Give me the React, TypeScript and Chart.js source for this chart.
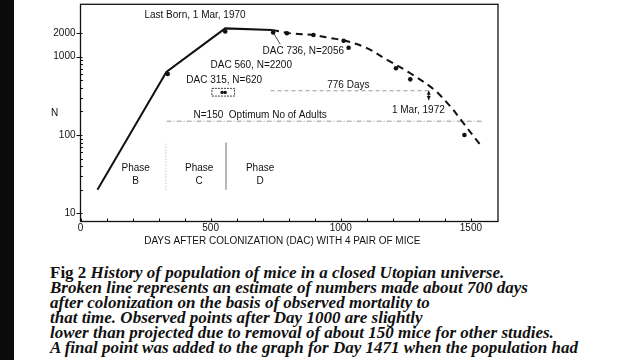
import React, { useEffect, useRef } from "react";
import { Chart, registerables } from "chart.js";

Chart.register(...registerables);

// ---- data (days after colonization, population N) ----
const solidDac = [65, 330, 556, 736];
const solidN = [20, 640, 2300, 2200];

const projDac = [736, 800, 900, 960, 1017, 1100, 1178, 1267, 1356, 1421, 1460, 1540];
const projN = [2200, 2000, 1880, 1730, 1600, 1290, 910, 615, 385, 232, 158, 72];

const obsDac = [335, 556, 740, 793, 895, 1011, 1030, 1212, 1267, 1475];
const obsN = [600, 2100, 2040, 1990, 1890, 1600, 1300, 711, 514, 100];

const optimumN = [150, 150];
const optimumDac = [331, 1547];

const daysLineDac = [730, 1338];
const daysLineN = [367, 367];

const phaseDividerDac = [328, 559];
const phaseDividerN = [20, 80];

const xTickValues = [0, 100, 200, 300, 400, 500, 600, 700, 800, 900, 1000, 1100, 1200, 1300, 1400, 1500];
const xLabelValues = [0, 500, 1000, 1500];
const yLabelValues = [10, 100, 1000, 2000];
const yMinorValues = [20, 30, 40, 50, 60, 70, 80, 90, 200, 300, 400, 500, 600, 700, 800, 900];

const labels = [
  { text: "Last Born, 1 Mar, 1970", x: 440, y: 3410 },
  { text: "DAC 736, N=2056", x: 856, y: 1158 },
  { text: "DAC 560, N=2200", x: 656, y: 783 },
  { text: "DAC 315, N=620", x: 552, y: 504 },
  { text: "776 Days", x: 1029, y: 426 },
  { text: "1 Mar, 1972", x: 1298, y: 208 },
  { text: "N=150  Optimum No of Adults", x: 690, y: 180 },
  { text: "Phase", x: 212, y: 37.8 },
  { text: "B", x: 212, y: 25.7 },
  { text: "Phase", x: 456, y: 37.8 },
  { text: "C", x: 456, y: 25.7 },
  { text: "Phase", x: 690, y: 37.8 },
  { text: "D", x: 690, y: 25.7 },
];

const captionLines = [
  "History of population of mice in a closed Utopian universe.",
  "Broken line represents an estimate of numbers made about 700 days",
  "after colonization on the basis of observed mortality to",
  "that time. Observed points after Day 1000 are slightly",
  "lower than projected due to removal of about 150 mice for other studies.",
  "A final point was added to the graph for Day 1471 when the population had",
];

const FONT = '"Liberation Sans", Arial, sans-serif';

const pts = (xs: number[], ys: number[]) => xs.map((x, i) => ({ x, y: ys[i] }));

const annotationPlugin = {
  id: "annot",
  afterDraw(chart: any) {
    const { ctx, chartArea, scales } = chart;
    const xs = scales.x;
    const ys = scales.y;
    ctx.save();
    ctx.strokeStyle = "#111";
    ctx.lineWidth = 1.3;
    ctx.strokeRect(chartArea.left, chartArea.top, chartArea.right - chartArea.left, chartArea.bottom - chartArea.top);

    // x tick marks (inside)
    ctx.lineWidth = 1;
    xTickValues.forEach((v) => {
      const px = Math.round(xs.getPixelForValue(v)) + 0.5;
      ctx.beginPath();
      ctx.moveTo(px, chartArea.bottom);
      ctx.lineTo(px, chartArea.bottom - 3);
      ctx.stroke();
    });
    // y major (outside) and minor (inside)
    yLabelValues.forEach((v) => {
      const py = Math.round(ys.getPixelForValue(v)) + 0.5;
      ctx.beginPath();
      ctx.moveTo(chartArea.left - 4, py);
      ctx.lineTo(chartArea.left + 2, py);
      ctx.stroke();
    });
    yMinorValues.forEach((v) => {
      const py = Math.round(ys.getPixelForValue(v)) + 0.5;
      ctx.beginPath();
      ctx.moveTo(chartArea.left, py);
      ctx.lineTo(chartArea.left + 2.5, py);
      ctx.stroke();
    });

    // labels
    ctx.fillStyle = "#111";
    ctx.font = `10px ${FONT}`;
    ctx.textAlign = "center";
    ctx.textBaseline = "middle";
    labels.forEach((l) => {
      ctx.fillText(l.text, xs.getPixelForValue(l.x), ys.getPixelForValue(l.y));
    });

    // "N" axis letter
    ctx.fillText("N", chartArea.left - 26, ys.getPixelForValue(190));

    // x axis title
    ctx.fillText(
      "DAYS AFTER COLONIZATION (DAC) WITH 4 PAIR OF MICE",
      (chartArea.left + chartArea.right) / 2 - 7,
      chartArea.bottom + 20
    );

    // boxed legend with two dots
    const bx0 = xs.getPixelForValue(505);
    const bx1 = xs.getPixelForValue(592);
    const by0 = ys.getPixelForValue(394);
    const by1 = ys.getPixelForValue(314);
    ctx.setLineDash([2, 1]);
    ctx.lineWidth = 0.8;
    ctx.strokeRect(bx0, by0, bx1 - bx0, by1 - by0);
    ctx.setLineDash([]);
    [544, 556].forEach((d) => {
      ctx.beginPath();
      ctx.arc(xs.getPixelForValue(d), ys.getPixelForValue(350), 1.7, 0, Math.PI * 2);
      ctx.fill();
    });
    ctx.beginPath();
    ctx.moveTo(xs.getPixelForValue(544), ys.getPixelForValue(350));
    ctx.lineTo(xs.getPixelForValue(556), ys.getPixelForValue(350));
    ctx.stroke();

    // arrow at 1 Mar 1972
    const ax = xs.getPixelForValue(1338);
    const ay0 = ys.getPixelForValue(367);
    const ay1 = ys.getPixelForValue(279);
    ctx.lineWidth = 1;
    ctx.beginPath();
    ctx.moveTo(ax, ay0);
    ctx.lineTo(ax, ay1);
    ctx.stroke();
    ctx.beginPath();
    ctx.moveTo(ax, ay0);
    ctx.lineTo(ax - 2, ay0 + 4);
    ctx.lineTo(ax + 2, ay0 + 4);
    ctx.closePath();
    ctx.fill();
    ctx.beginPath();
    ctx.moveTo(ax, ay1);
    ctx.lineTo(ax - 2, ay1 - 4);
    ctx.lineTo(ax + 2, ay1 - 4);
    ctx.closePath();
    ctx.fill();
    ctx.restore();
  },
};

function PopulationChart() {
  const ref = useRef<HTMLCanvasElement | null>(null);
  useEffect(() => {
    if (!ref.current) return;
    const chart = new Chart(ref.current, {
      type: "line",
      data: {
        datasets: [
          {
            data: pts(solidDac, solidN),
            borderColor: "#111",
            borderWidth: 2,
            pointRadius: 0,
            tension: 0,
          },
          {
            data: pts(projDac, projN),
            borderColor: "#111",
            borderWidth: 2,
            borderDash: [7, 5],
            pointRadius: 0,
            tension: 0.35,
          },
          {
            data: pts(obsDac, obsN),
            showLine: false,
            pointRadius: 2.3,
            pointBackgroundColor: "#111",
            pointBorderColor: "#111",
            borderWidth: 0,
          },
          {
            data: pts(optimumDac, optimumN),
            borderColor: "#999",
            borderWidth: 1,
            borderDash: [5, 2, 1, 2],
            pointRadius: 0,
          },
          {
            data: pts(daysLineDac, daysLineN),
            borderColor: "#999",
            borderWidth: 1,
            borderDash: [4, 3],
            pointRadius: 0,
          },
          {
            data: pts([phaseDividerDac[0], phaseDividerDac[0]], phaseDividerN),
            borderColor: "#aaa",
            borderWidth: 1,
            borderDash: [1, 2],
            pointRadius: 0,
          },
          {
            data: pts([phaseDividerDac[1], phaseDividerDac[1]], phaseDividerN),
            borderColor: "#888",
            borderWidth: 1.2,
            pointRadius: 0,
          },
          {
            data: pts([767, 742], [1450, 1990]),
            borderColor: "#333",
            borderWidth: 0.9,
            pointRadius: 0,
          },
        ],
      },
      options: {
        responsive: false,
        animation: false,
        events: [],
        layout: { padding: { left: 0, right: 142, top: 4.3, bottom: 0 } },
        plugins: { legend: { display: false }, tooltip: { enabled: false } },
        scales: {
          x: {
            type: "linear",
            min: 0,
            max: 1604,
            grid: { display: false, drawTicks: false },
            border: { display: false },
            afterBuildTicks: (s: any) => {
              s.ticks = xLabelValues.map((value) => ({ value }));
            },
            afterFit: (s: any) => {
              s.height = 28.5;
              s.paddingLeft = 0;
              s.paddingRight = 0;
            },
            ticks: {
              padding: 1,
              color: "#111",
              maxRotation: 0,
              autoSkip: false,
              font: { family: FONT, size: 10 },
              callback: (v: any) => String(v),
            },
          },
          y: {
            type: "logarithmic",
            min: 7.85,
            max: 4670,
            grid: { display: false, drawTicks: false },
            border: { display: false },
            afterBuildTicks: (s: any) => {
              s.ticks = yLabelValues.map((value) => ({ value }));
            },
            afterFit: (s: any) => {
              s.width = 80.5;
              s.paddingTop = 0;
              s.paddingBottom = 0;
            },
            ticks: {
              padding: 5,
              color: "#111",
              autoSkip: false,
              font: { family: FONT, size: 10 },
              callback: (v: any) => String(v),
            },
          },
        },
      },
      plugins: [annotationPlugin],
    } as any);
    return () => chart.destroy();
  }, []);
  return <canvas ref={ref} width={640} height={250} style={{ display: "block" }} />;
}

export default function App() {
  return (
    <div
      style={{
        position: "fixed",
        left: 0,
        top: 0,
        width: 640,
        height: 360,
        background: "#fff",
        overflow: "hidden",
      }}
    >
      <div style={{ position: "absolute", left: 0, top: 0, width: 640, height: 250 }}>
        <PopulationChart />
      </div>
      <div
        style={{
          position: "absolute",
          left: 50,
          top: 265,
          fontFamily: '"Liberation Serif", "Times New Roman", serif',
          fontSize: 17,
          fontWeight: "bold",
          lineHeight: "15px",
          fontStyle: "italic",
          color: "#111",
          whiteSpace: "nowrap",
        }}
      >
        {captionLines.map((line, i) => (
          <div key={i}>
            {i === 0 ? <span style={{ fontStyle: "normal" }}>Fig 2 </span> : null}
            {line}
          </div>
        ))}
      </div>
      <div style={{ position: "absolute", left: 0, top: 0, width: 14, height: 360, background: "#0b0b0b" }} />
    </div>
  );
}
